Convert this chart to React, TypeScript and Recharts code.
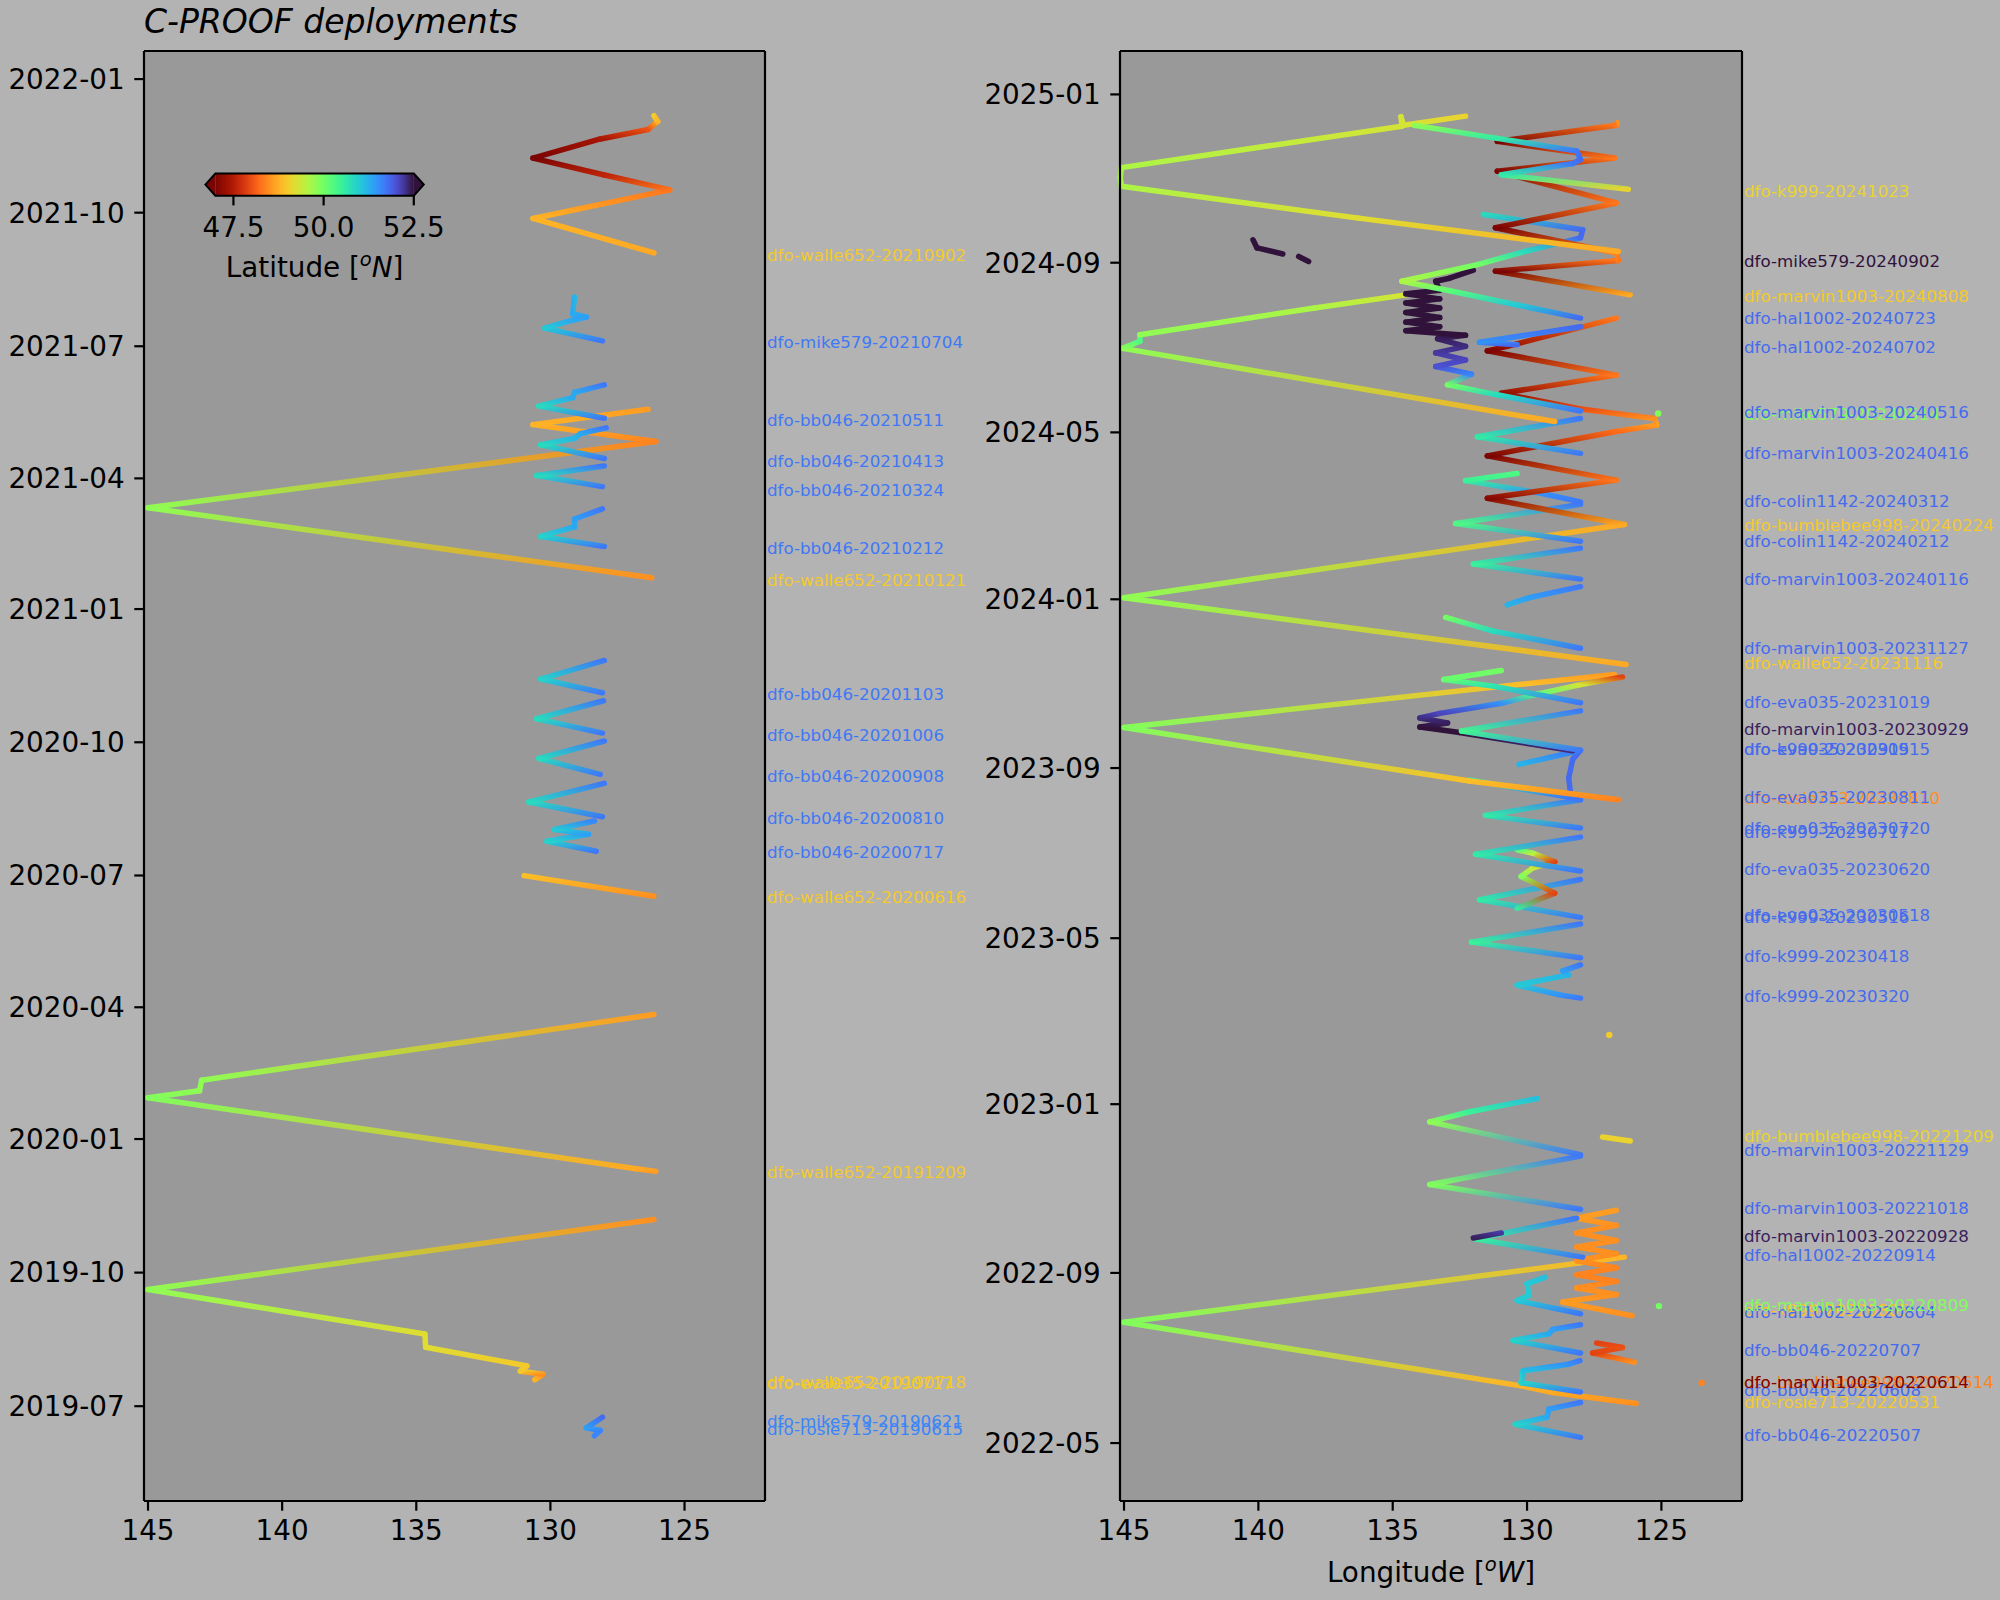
import React from 'react';
import { ComposedChart, Line, Scatter, XAxis, YAxis, CartesianGrid, ReferenceLine } from 'recharts';

type Pt = [number, number, number]; // [longitude °W, decimal year, latitude °N]

// ---------------- axes ----------------
const lonTicks = [125, 130, 135, 140, 145];
const lonDomain: [number, number] = [122.0, 145.15];
const leftDateTicks = ['2019-07', '2019-10', '2020-01', '2020-04', '2020-07', '2020-10', '2021-01', '2021-04', '2021-07', '2021-10', '2022-01'];
const rightDateTicks = ['2022-05', '2022-09', '2023-01', '2023-05', '2023-09', '2024-01', '2024-05', '2024-09', '2025-01'];
const leftTimeDomain: [number, number] = [2019.317, 2022.053];
const rightTimeDomain: [number, number] = [2022.214, 2025.086];
const latTicks = [47.5, 50.0, 52.5];
const latRange: [number, number] = [47.0, 52.5];

// ---------------- left panel tracks ----------------
const rosie713_20190615: Pt[] = [[128.36, 2019.440, 51.6], [128.14, 2019.450, 51.6], [128.66, 2019.455, 51.4], [128.06, 2019.475, 51.8]];
const walle652_20190718: Pt[] = [[130.58, 2019.546, 48.8], [130.28, 2019.556, 48.5], [131.12, 2019.562, 49.0], [130.88, 2019.572, 49.0], [134.65, 2019.607, 49.2], [134.68, 2019.632, 49.2], [145.0, 2019.716, 49.8], [126.14, 2019.848, 48.5]];
const walle652_20191209: Pt[] = [[126.07, 2019.939, 48.6], [126.81, 2019.944, 48.7], [145.0, 2020.078, 49.9], [143.08, 2020.091, 49.8], [143.0, 2020.111, 49.8], [126.14, 2020.235, 48.6]];
const walle652_20200616: Pt[] = [[126.14, 2020.458, 48.5], [130.98, 2020.497, 48.9]];
const bb046_20200717: Pt[] = [[128.29, 2020.543, 51.7], [130.13, 2020.562, 50.9], [128.58, 2020.575, 51.4], [129.84, 2020.584, 51.0], [128.36, 2020.600, 51.6]];
const bb046_20200810: Pt[] = [[128.06, 2020.608, 51.7], [130.80, 2020.636, 50.8], [127.99, 2020.671, 51.7]];
const bb046_20200908: Pt[] = [[128.14, 2020.688, 51.7], [130.43, 2020.718, 50.8], [127.99, 2020.751, 51.7]];
const bb046_20201006: Pt[] = [[128.06, 2020.766, 51.7], [130.51, 2020.793, 50.8], [128.02, 2020.827, 51.7]];
const bb046_20201103: Pt[] = [[128.06, 2020.842, 51.7], [130.36, 2020.868, 50.9], [127.99, 2020.903, 51.7]];
const walle652_20210121: Pt[] = [[126.22, 2021.059, 48.5], [145.0, 2021.191, 49.8], [126.07, 2021.316, 48.4], [130.65, 2021.348, 48.8], [126.36, 2021.377, 48.6]];
const bb046_20210212: Pt[] = [[127.99, 2021.118, 51.7], [130.36, 2021.137, 50.9], [129.10, 2021.155, 51.3], [129.10, 2021.170, 51.4], [128.06, 2021.189, 51.7]];
const bb046_20210324: Pt[] = [[128.06, 2021.231, 51.7], [130.51, 2021.252, 50.8], [127.99, 2021.270, 51.7]];
const bb046_20210413: Pt[] = [[127.99, 2021.284, 51.7], [130.36, 2021.310, 50.8], [129.10, 2021.322, 51.2], [128.88, 2021.331, 51.3], [127.92, 2021.342, 51.7]];
const bb046_20210511: Pt[] = [[127.99, 2021.360, 51.7], [130.43, 2021.383, 50.8], [129.17, 2021.399, 51.3], [129.10, 2021.409, 51.3], [127.99, 2021.423, 51.7]];
const mike579_20210704: Pt[] = [[128.06, 2021.506, 51.7], [130.21, 2021.530, 51.0], [129.17, 2021.545, 51.3], [128.66, 2021.551, 51.4], [129.17, 2021.557, 51.3], [129.10, 2021.589, 51.2]];
const walle652_20210902: Pt[] = [[126.14, 2021.672, 48.7], [130.65, 2021.737, 48.8], [125.55, 2021.791, 48.3], [127.99, 2021.819, 47.6], [130.65, 2021.851, 47.0], [128.14, 2021.887, 47.4], [126.36, 2021.905, 48.0], [126.0, 2021.920, 48.8], [126.14, 2021.931, 49.0]];

const leftTracks: Pt[][] = [rosie713_20190615, walle652_20190718, walle652_20191209, walle652_20200616, bb046_20200717, bb046_20200810, bb046_20200908, bb046_20201006, bb046_20201103, walle652_20210121, bb046_20210212, bb046_20210324, bb046_20210413, bb046_20210511, mike579_20210704, walle652_20210902];
const leftDots: Pt[] = [];

// ---------------- right panel tracks ----------------
const bb046_20220507: Pt[] = [[128.01, 2022.340, 51.7], [130.44, 2022.366, 50.9], [129.26, 2022.380, 51.3], [129.19, 2022.396, 51.4], [128.01, 2022.409, 51.7]];
const bb046_20220608: Pt[] = [[128.01, 2022.430, 51.7], [130.22, 2022.448, 50.9], [130.15, 2022.472, 51.1], [128.45, 2022.485, 51.5], [128.03, 2022.492, 51.7]];
const rosie713_20220531: Pt[] = [[125.94, 2022.407, 48.5], [129.04, 2022.429, 48.7], [130.22, 2022.442, 48.8], [145.0, 2022.568, 49.9], [126.38, 2022.697, 48.8]];
const marvin1003_20220614: Pt[] = [[126.01, 2022.489, 48.5], [127.56, 2022.507, 47.9], [126.45, 2022.518, 48.0], [127.41, 2022.527, 47.9]];
const bb046_20220707: Pt[] = [[128.01, 2022.507, 51.7], [130.52, 2022.532, 50.9], [129.19, 2022.545, 51.3], [129.04, 2022.554, 51.4], [128.01, 2022.563, 51.7]];
const hal1002_20220804: Pt[] = [[128.01, 2022.585, 51.7], [130.37, 2022.611, 51.0], [129.93, 2022.621, 51.0], [130.0, 2022.644, 51.0], [129.34, 2022.657, 51.1]];
const k999_20220805: Pt[] = [[126.09, 2022.581, 48.5], [128.67, 2022.608, 48.6], [126.68, 2022.623, 48.5], [128.15, 2022.636, 48.5], [126.68, 2022.649, 48.4], [128.15, 2022.662, 48.4], [126.68, 2022.676, 48.4], [128.15, 2022.690, 48.5], [126.68, 2022.704, 48.5], [128.15, 2022.717, 48.5], [126.68, 2022.730, 48.5], [128.15, 2022.745, 48.5], [126.68, 2022.760, 48.5], [128.15, 2022.774, 48.6], [126.68, 2022.790, 48.6]];
const hal1002_20220914: Pt[] = [[127.93, 2022.697, 51.7], [131.92, 2022.733, 50.5], [128.15, 2022.774, 51.7]];
const marvin1003_20220928: Pt[] = [[132.0, 2022.735, 52.4], [130.96, 2022.745, 52.2]];
const marvin1003_20221018: Pt[] = [[128.01, 2022.792, 51.7], [133.62, 2022.841, 49.9], [128.01, 2022.897, 51.7]];
const marvin1003_20221129: Pt[] = [[128.01, 2022.900, 51.7], [133.62, 2022.965, 49.8], [132.14, 2022.985, 50.5], [129.63, 2023.011, 51.1]];
const bumblebee998_20221209: Pt[] = [[126.16, 2022.927, 49.1], [127.19, 2022.935, 49.1]];
const k999_20230320: Pt[] = [[128.01, 2023.210, 51.7], [128.74, 2023.216, 51.5], [130.37, 2023.236, 51.0], [128.45, 2023.256, 51.2], [128.67, 2023.264, 51.4], [128.01, 2023.276, 51.7]];
const k999_20230418: Pt[] = [[128.01, 2023.290, 51.7], [132.07, 2023.321, 50.5], [128.01, 2023.357, 51.7]];
const k999_20230516: Pt[] = [[128.01, 2023.370, 51.7], [131.77, 2023.405, 50.6], [128.01, 2023.445, 51.7]];
const eva035_20230518: Pt[] = [[130.37, 2023.388, 50.6], [128.97, 2023.418, 47.9], [130.22, 2023.451, 49.9], [129.78, 2023.468, 49.4], [128.97, 2023.480, 47.9], [129.78, 2023.497, 49.5], [130.37, 2023.504, 50.3]];
const eva035_20230620: Pt[] = [[128.01, 2023.462, 51.7], [131.92, 2023.495, 50.6], [128.01, 2023.529, 51.7]];
const k999_20230717: Pt[] = [[128.01, 2023.547, 51.7], [131.55, 2023.572, 50.6], [128.01, 2023.603, 51.7], [128.37, 2023.610, 51.8], [128.45, 2023.646, 51.8], [128.30, 2023.683, 51.8], [128.01, 2023.701, 51.8]];
const eva035_20230811a: Pt[] = [[128.30, 2023.607, 51.7], [132.14, 2023.642, 50.6]];
const eva035_20230811b: Pt[] = [[130.30, 2023.673, 51.2], [128.15, 2023.699, 51.7]];
const rosie713_20230810: Pt[] = [[126.60, 2023.603, 48.4], [132.14, 2023.640, 48.9], [145.0, 2023.746, 49.9], [130.37, 2023.831, 48.9], [126.75, 2023.851, 48.6]];
const marvin1003_20230929: Pt[] = [[128.30, 2023.700, 52.3], [132.51, 2023.736, 52.5], [133.99, 2023.747, 52.5], [132.96, 2023.755, 52.4], [133.99, 2023.765, 52.3], [133.25, 2023.774, 52.1], [130.96, 2023.794, 51.5], [129.63, 2023.812, 50.2], [128.01, 2023.831, 49.3], [126.45, 2023.846, 47.9]];
const eva035_20230915: Pt[] = [[128.01, 2023.701, 51.7], [132.44, 2023.739, 50.4], [128.01, 2023.779, 51.7]];
const eva035_20231019: Pt[] = [[128.01, 2023.795, 51.7], [131.26, 2023.828, 50.7], [133.10, 2023.841, 50.1], [130.96, 2023.859, 50.0]];
const walle652_20231116: Pt[] = [[126.31, 2023.871, 48.7], [145.0, 2024.003, 49.8], [126.38, 2024.148, 48.7]];
const marvin1003_20231127: Pt[] = [[128.01, 2023.903, 51.7], [131.26, 2023.937, 50.8], [133.03, 2023.964, 50.0]];
const marvin1003_20231127b: Pt[] = [[130.74, 2023.989, 51.2], [129.93, 2024.003, 51.4], [128.01, 2024.025, 51.7]];
const marvin1003_20240116: Pt[] = [[128.01, 2024.040, 51.7], [132.0, 2024.070, 50.5], [128.01, 2024.101, 51.7]];
const colin1142_20240212: Pt[] = [[128.01, 2024.115, 51.7], [132.66, 2024.150, 50.3], [128.01, 2024.188, 51.7]];
const colin1142_20240312: Pt[] = [[128.01, 2024.193, 51.7], [129.48, 2024.210, 51.5], [132.29, 2024.235, 50.5], [130.37, 2024.249, 50.3]];
const bumblebee998_20240224: Pt[] = [[126.38, 2024.148, 48.7], [131.48, 2024.200, 47.1], [126.68, 2024.236, 48.3], [131.48, 2024.284, 47.0], [126.75, 2024.332, 48.2], [125.18, 2024.345, 48.6], [125.25, 2024.358, 48.5], [128.01, 2024.377, 48.0], [130.96, 2024.408, 47.2], [126.68, 2024.444, 48.3], [131.48, 2024.492, 47.0], [130.74, 2024.501, 47.3], [126.68, 2024.557, 48.3]];
const marvin1003_20240416: Pt[] = [[128.01, 2024.289, 51.7], [131.85, 2024.322, 50.6], [128.01, 2024.358, 51.7]];
const transect_20240510: Pt[] = [[128.97, 2024.352, 48.7], [145.05, 2024.497, 49.8], [144.41, 2024.511, 50.3], [144.41, 2024.524, 49.8], [137.91, 2024.577, 49.6], [134.51, 2024.603, 49.3]];
const marvin1003_20240516: Pt[] = [[128.01, 2024.373, 51.7], [131.11, 2024.405, 50.8], [132.96, 2024.425, 50.0], [132.07, 2024.446, 51.6], [133.40, 2024.461, 52.0], [132.29, 2024.474, 52.1], [133.40, 2024.488, 52.2], [132.29, 2024.501, 52.3], [133.33, 2024.516, 52.4], [132.29, 2024.523, 52.5], [134.51, 2024.532, 52.5], [133.25, 2024.540, 52.5], [134.51, 2024.549, 52.5], [133.25, 2024.558, 52.5], [134.51, 2024.568, 52.5], [133.25, 2024.577, 52.5], [134.51, 2024.587, 52.5], [133.25, 2024.595, 52.5], [134.51, 2024.605, 52.5], [133.25, 2024.612, 52.5], [133.40, 2024.630, 52.5], [132.88, 2024.636, 52.5], [132.0, 2024.652, 52.5]];
const hal1002_20240702: Pt[] = [[130.37, 2024.504, 51.8], [131.77, 2024.509, 51.5], [128.01, 2024.540, 51.8]];
const hal1002_20240723: Pt[] = [[128.01, 2024.557, 51.8], [130.37, 2024.583, 51.0], [132.88, 2024.611, 50.2], [134.66, 2024.630, 49.6], [131.85, 2024.663, 50.0], [130.07, 2024.689, 50.8], [128.01, 2024.716, 51.8], [127.93, 2024.732, 51.8], [131.63, 2024.762, 50.8]];
const marvin1003_20240808: Pt[] = [[126.16, 2024.603, 48.7], [131.18, 2024.650, 47.0], [126.60, 2024.671, 48.3], [126.68, 2024.686, 48.4], [131.18, 2024.736, 47.0], [126.68, 2024.785, 48.3], [131.11, 2024.848, 47.0], [126.75, 2024.874, 48.3], [131.11, 2024.907, 47.0], [126.68, 2024.939, 48.3], [126.65, 2024.944, 48.5]];
const mike579_20240902a: Pt[] = [[138.13, 2024.669, 52.5], [138.50, 2024.679, 52.5]];
const mike579_20240902b: Pt[] = [[139.09, 2024.684, 52.5], [140.05, 2024.696, 52.5], [140.20, 2024.712, 52.5]];
const transect_20240910: Pt[] = [[126.60, 2024.689, 48.7], [136.28, 2024.755, 49.2], [145.10, 2024.818, 49.6], [145.14, 2024.836, 49.6], [145.10, 2024.855, 49.6], [134.66, 2024.937, 49.3], [134.69, 2024.956, 49.3], [134.60, 2024.939, 49.3], [132.29, 2024.957, 49.1]];
const k999_20241023: Pt[] = [[126.23, 2024.812, 49.1], [130.96, 2024.841, 50.6], [128.30, 2024.863, 51.7], [128.01, 2024.871, 51.8], [128.15, 2024.888, 51.7], [131.11, 2024.913, 50.6], [134.21, 2024.939, 49.8]];

const rightTracks: Pt[][] = [bb046_20220507, rosie713_20220531, bb046_20220608, marvin1003_20220614, bb046_20220707, hal1002_20220804, k999_20220805, hal1002_20220914, marvin1003_20220928, marvin1003_20221018, marvin1003_20221129, bumblebee998_20221209, k999_20230320, k999_20230418, k999_20230516, eva035_20230518, eva035_20230620, k999_20230717, eva035_20230811a, eva035_20230811b, rosie713_20230810, marvin1003_20230929, eva035_20230915, eva035_20231019, walle652_20231116, marvin1003_20231127, marvin1003_20231127b, marvin1003_20240116, colin1142_20240212, colin1142_20240312, bumblebee998_20240224, marvin1003_20240416, transect_20240510, marvin1003_20240516, hal1002_20240702, hal1002_20240723, marvin1003_20240808, mike579_20240902a, mike579_20240902b, transect_20240910, k999_20241023];
const rightDots: Pt[] = [[123.5, 2022.448, 48.4], [125.09, 2022.600, 50.0], [126.94, 2023.137, 49.0], [125.12, 2024.368, 49.9]];

// ---------------- deployment labels [name, latitude at start] ----------------
const leftLabels: [string, number][] = [
  ['dfo-rosie713-20190615', 51.6], ['dfo-mike579-20190621', 51.6], ['dfo-eva035-20190717', 49.0], ['dfo-walle652-20190718', 49.0],
  ['dfo-walle652-20191209', 49.0], ['dfo-walle652-20200616', 49.0], ['dfo-bb046-20200717', 51.7], ['dfo-bb046-20200810', 51.7],
  ['dfo-bb046-20200908', 51.7], ['dfo-bb046-20201006', 51.7], ['dfo-bb046-20201103', 51.7], ['dfo-walle652-20210121', 49.0],
  ['dfo-bb046-20210212', 51.7], ['dfo-bb046-20210324', 51.7], ['dfo-bb046-20210413', 51.7], ['dfo-bb046-20210511', 51.7],
  ['dfo-mike579-20210704', 51.7], ['dfo-walle652-20210902', 49.0],
];
const rightLabels: [string, number][] = [
  ['dfo-bb046-20220507', 51.8], ['dfo-rosie713-20220531', 49.0], ['dfo-bb046-20220608', 51.8], ['dfo-bumblebee998-20220614', 48.4],
  ['dfo-marvin1003-20220614', 47.0], ['dfo-bb046-20220707', 51.8], ['dfo-k999-20220805', 48.9], ['dfo-hal1002-20220804', 51.8],
  ['dfo-marvin1003-20220809', 49.9], ['dfo-hal1002-20220914', 51.8], ['dfo-marvin1003-20220928', 52.4], ['dfo-marvin1003-20221018', 51.8],
  ['dfo-marvin1003-20221129', 51.8], ['dfo-bumblebee998-20221209', 49.1], ['dfo-k999-20230320', 51.8], ['dfo-k999-20230418', 51.8],
  ['dfo-k999-20230516', 51.8], ['dfo-eva035-20230518', 51.8], ['dfo-eva035-20230620', 51.8], ['dfo-k999-20230717', 51.8],
  ['dfo-eva035-20230720', 51.8], ['dfo-rosie713-20230810', 48.5], ['dfo-eva035-20230811', 51.8], ['dfo-k999-20230915', 51.8],
  ['dfo-eva035-20230915', 51.8], ['dfo-marvin1003-20230929', 52.4], ['dfo-eva035-20231019', 51.8], ['dfo-walle652-20231116', 49.0],
  ['dfo-marvin1003-20231127', 51.8], ['dfo-marvin1003-20240116', 51.8], ['dfo-colin1142-20240212', 51.8], ['dfo-bumblebee998-20240224', 49.0],
  ['dfo-colin1142-20240312', 51.8], ['dfo-marvin1003-20240416', 51.8], ['dfo-mike579-20240514', 49.9], ['dfo-marvin1003-20240516', 51.8],
  ['dfo-hal1002-20240702', 51.8], ['dfo-hal1002-20240723', 51.8], ['dfo-marvin1003-20240808', 49.0], ['dfo-mike579-20240902', 52.5],
  ['dfo-k999-20241023', 49.1],
];

// ---------------- helpers ----------------
const FONT = 'DejaVu Sans';

function decYear(y: number, m: number, d: number) {
  const s = Date.UTC(y, 0, 1);
  const e = Date.UTC(y + 1, 0, 1);
  return y + (Date.UTC(y, m - 1, d) - s) / (e - s);
}
const tickYear = (s: string) => { const [y, m] = s.split('-').map(Number); return decYear(y, m, 1); };
const nameYear = (n: string) => { const s = n.slice(-8); return decYear(+s.slice(0, 4), +s.slice(4, 6), +s.slice(6, 8)); };

function turboPoly(x: number): [number, number, number] {
  const r = 0.13572138 + x * (4.6153926 + x * (-42.66032258 + x * (132.13108234 + x * (-152.94239396 + x * 59.28637943))));
  const g = 0.09140261 + x * (2.19418839 + x * (4.84296658 + x * (-14.18503333 + x * (4.27729857 + x * 2.82956604))));
  const b = 0.1066733 + x * (12.64194608 + x * (-60.58204836 + x * (110.36276771 + x * (-89.90310912 + x * 27.34824973))));
  return [r, g, b];
}
function turbo(x: number): string {
  x = Math.min(1, Math.max(0, x));
  let c = turboPoly(x);
  if (x < 0.06) {
    const a = turboPoly(0.06); const lo = [0.19, 0.072, 0.232]; const f = x / 0.06;
    c = [lo[0] + (a[0] - lo[0]) * f, lo[1] + (a[1] - lo[1]) * f, lo[2] + (a[2] - lo[2]) * f];
  } else if (x > 0.94) {
    const a = turboPoly(0.94); const hi = [0.48, 0.016, 0.011]; const f = (x - 0.94) / 0.06;
    c = [a[0] + (hi[0] - a[0]) * f, a[1] + (hi[1] - a[1]) * f, a[2] + (hi[2] - a[2]) * f];
  }
  const q = (v: number) => Math.round(255 * Math.min(1, Math.max(0, v)));
  return `rgb(${q(c[0])},${q(c[1])},${q(c[2])})`;
}
// reversed turbo, vmin = 47, vmax = 52.5
const latColor = (lat: number) => turbo(1 - (lat - latRange[0]) / (latRange[1] - latRange[0]));

interface Seg { id: string; data: { lon: number; t: number }[]; c1: string; c2: string; x1: number; y1: number; solid: boolean }
function buildSegs(prefix: string, tracks: Pt[][]): Seg[] {
  const out: Seg[] = [];
  tracks.forEach((tr, ti) => {
    for (let i = 0; i < tr.length - 1; i++) {
      const a = tr[i];
      const b = tr[i + 1];
      out.push({
        id: `${prefix}-${ti}-${i}`,
        data: [{ lon: a[0], t: a[1] }, { lon: b[0], t: b[1] }],
        c1: latColor(a[2]),
        c2: latColor(b[2]),
        x1: b[0] < a[0] ? 0 : 1,
        y1: b[1] < a[1] ? 0 : 1,
        solid: Math.abs(a[0] - b[0]) < 1e-6 || Math.abs(a[1] - b[1]) < 1e-6,
      });
    }
  });
  return out;
}

const leftSegs = buildSegs('L', leftTracks);
const rightSegs = buildSegs('R', rightTracks);

const dotShape = (p: any) => <circle cx={p.cx} cy={p.cy} r={3.2} fill={latColor(p.payload.lat)} />;
const labelShape = (p: any) => (
  <text x={p.cx + 2} y={p.cy} fontSize={16.7} fontFamily={FONT} fill={latColor(p.payload.lat)} dominantBaseline="central">
    {p.payload.name}
  </text>
);

interface PanelProps {
  segs: Seg[]; dots: Pt[]; labels: [string, number][]; dateTicks: string[];
  timeDomain: [number, number]; margin: any; yWidth: number; width: number;
}

function Panel({ segs, dots, labels, dateTicks, timeDomain, margin, yWidth, width }: PanelProps) {
  const tickVals = dateTicks.map(tickYear);
  const fmt = (v: number) => {
    let best = 0;
    tickVals.forEach((tv, i) => { if (Math.abs(tv - v) < Math.abs(tickVals[best] - v)) best = i; });
    return dateTicks[best];
  };
  const labelData = labels.map(([name, lat]) => ({ lon: lonDomain[0], t: nameYear(name), name, lat }));
  const dotData = dots.map(([lon, t, lat]) => ({ lon, t, lat }));
  const tickStyle = { fill: '#000', fontSize: 27.8, fontFamily: FONT };
  const tickLine = { stroke: '#000', strokeWidth: 2.2 };
  return (
    <ComposedChart width={width} height={1600} margin={margin}>
      <CartesianGrid fill="#999999" stroke="none" horizontal={false} vertical={false} />
      <XAxis type="number" dataKey="lon" domain={lonDomain} reversed ticks={lonTicks} interval={0}
        tick={tickStyle} tickLine={tickLine} axisLine={{ stroke: '#000', strokeWidth: 2.2 }}
        tickSize={9.7} tickMargin={9.7} height={60} />
      <YAxis type="number" dataKey="t" domain={timeDomain} ticks={tickVals} tickFormatter={fmt} interval={0}
        tick={tickStyle} tickLine={tickLine} axisLine={{ stroke: '#000', strokeWidth: 2.2 }}
        tickSize={9.7} tickMargin={9.7} width={yWidth} />
      <ReferenceLine x={lonDomain[0]} stroke="#000" strokeWidth={2.2} />
      <ReferenceLine y={timeDomain[1]} stroke="#000" strokeWidth={2.2} />
      {segs.map((s) => (
        <Line key={s.id} data={s.data} dataKey="t" stroke={s.solid ? s.c1 : `url(#${s.id})`} strokeWidth={5.5}
          strokeLinecap="round" strokeLinejoin="round" dot={false} activeDot={false} isAnimationActive={false} legendType="none" />
      ))}
      <Scatter data={dotData} dataKey="t" shape={dotShape} isAnimationActive={false} />
      <Scatter data={labelData} dataKey="t" shape={labelShape} isAnimationActive={false} />
    </ComposedChart>
  );
}

function Gradients({ segs }: { segs: Seg[] }) {
  return (
    <>
      {segs.filter((s) => !s.solid).map((s) => (
        <linearGradient key={s.id} id={s.id} x1={s.x1} x2={1 - s.x1} y1={s.y1} y2={1 - s.y1}>
          <stop offset="0" stopColor={s.c1} />
          <stop offset="1" stopColor={s.c2} />
        </linearGradient>
      ))}
    </>
  );
}

function Colorbar() {
  const x0 = 215.4, x1 = 413.8, y0 = 173.5, y1 = 195.7, ym = (y0 + y1) / 2;
  const px = (lat: number) => x0 + ((lat - latRange[0]) / (latRange[1] - latRange[0])) * (x1 - x0);
  const stops = Array.from({ length: 41 }, (_, i) => i / 40);
  return (
    <g>
      <defs>
        <linearGradient id="cbar" x1="0" x2="1" y1="0" y2="0">
          {stops.map((f) => (
            <stop key={f} offset={f} stopColor={latColor(latRange[0] + f * (latRange[1] - latRange[0]))} />
          ))}
        </linearGradient>
      </defs>
      <rect x={x0} y={y0} width={x1 - x0} height={y1 - y0} fill="url(#cbar)" />
      <polygon points={`${x0},${y0} ${x0 - 10},${ym} ${x0},${y1}`} fill={latColor(latRange[0])} />
      <polygon points={`${x1},${y0} ${x1 + 10},${ym} ${x1},${y1}`} fill={latColor(latRange[1])} />
      <polygon points={`${x0 - 10},${ym} ${x0},${y0} ${x1},${y0} ${x1 + 10},${ym} ${x1},${y1} ${x0},${y1}`} fill="none" stroke="#000" strokeWidth={2} />
      {latTicks.map((v) => (
        <g key={v}>
          <line x1={px(v)} x2={px(v)} y1={y1} y2={y1 + 9.7} stroke="#000" strokeWidth={2.2} />
          <text x={px(v)} y={237} textAnchor="middle" fontSize={27.8} fontFamily={FONT} fill="#000">{v.toFixed(1)}</text>
        </g>
      ))}
      <text x={(x0 + x1) / 2} y={277} textAnchor="middle" fontSize={27.8} fontFamily={FONT} fill="#000">
        Latitude [<tspan dy={-11} fontSize={19.5} fontStyle="italic">o</tspan><tspan dy={11} fontStyle="italic">N</tspan>]
      </text>
    </g>
  );
}

export default function App() {
  return (
    <div style={{ position: 'absolute', left: 0, top: 0, width: 2000, height: 1600, background: '#b3b3b3', overflow: 'hidden', fontFamily: FONT }}>
      <svg width={1} height={1} style={{ position: 'absolute', left: 0, top: 0 }}>
        <defs>
          <Gradients segs={leftSegs} />
          <Gradients segs={rightSegs} />
        </defs>
      </svg>
      <div style={{ position: 'absolute', left: 0, top: 0 }}>
        <Panel segs={leftSegs} dots={leftDots} labels={leftLabels} dateTicks={leftDateTicks} timeDomain={leftTimeDomain}
          margin={{ top: 51, right: 235, bottom: 39, left: 14 }} yWidth={130} width={1000} />
      </div>
      <div style={{ position: 'absolute', left: 960, top: 0 }}>
        <Panel segs={rightSegs} dots={rightDots} labels={rightLabels} dateTicks={rightDateTicks} timeDomain={rightTimeDomain}
          margin={{ top: 51, right: 258, bottom: 39, left: 40 }} yWidth={120} width={1040} />
      </div>
      <svg width={2000} height={1600} style={{ position: 'absolute', left: 0, top: 0, pointerEvents: 'none' }}>
        <text x={144} y={33} fontSize={33} fontStyle="italic" fontFamily={FONT} fill="#000">C-PROOF deployments</text>
        <Colorbar />
        <text x={1431} y={1582} textAnchor="middle" fontSize={27.8} fontFamily={FONT} fill="#000">
          Longitude [<tspan dy={-11} fontSize={19.5} fontStyle="italic">o</tspan><tspan dy={11} fontStyle="italic">W</tspan>]
        </text>
      </svg>
    </div>
  );
}
